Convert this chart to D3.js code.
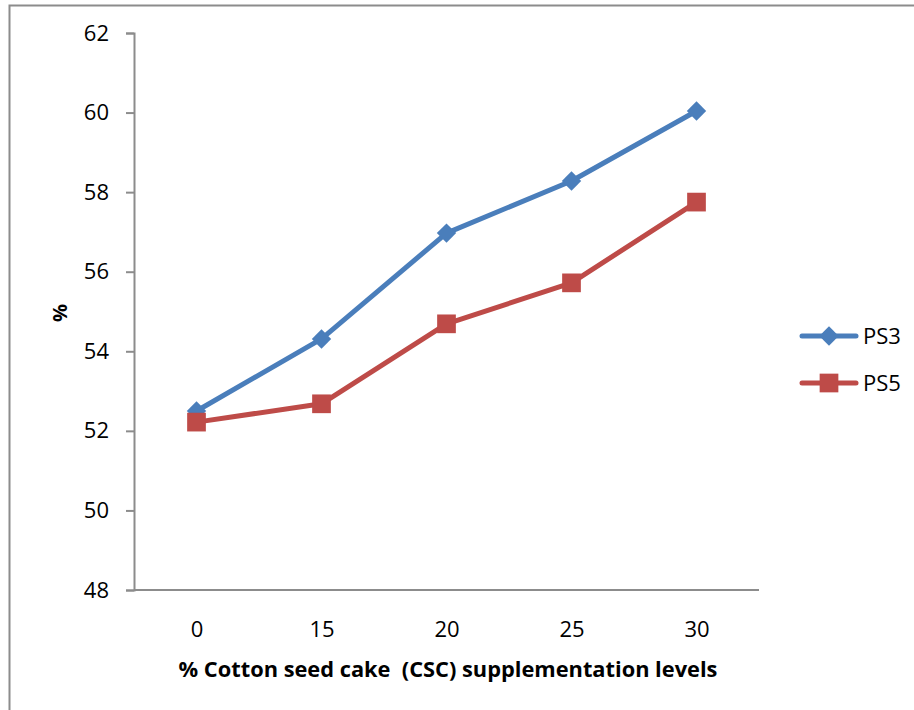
<!DOCTYPE html>
<html>
<head>
<meta charset="utf-8">
<script src="https://cdn.jsdelivr.net/npm/d3@7"></script>
<style>
  html, body { margin: 0; padding: 0; background: #fff; }
  svg text { font-family: "Open Sans", "Liberation Sans", sans-serif; }
</style>
</head>
<body>
<svg id="chart" width="914" height="710"></svg>
<script>
// Supplementation levels and the two series
const levels = ["0", "15", "20", "25", "30"];
const ps3 = [52.5, 54.31, 56.97, 58.28, 60.04];
const ps5 = [52.22, 52.68, 54.69, 55.72, 57.75];
const yTicks = [48, 50, 52, 54, 56, 58, 60, 62];
const seriesNames = ["PS3", "PS5"];

const svg = d3.select("#chart");
const margin = { left: 134, top: 33 };
const plotW = 625;
const plotH = 557;
const FONT = "'Open Sans', 'Liberation Sans', sans-serif";

// outer frame
svg.append("rect")
  .attr("x", 9.5).attr("y", 5.5)
  .attr("width", 920).attr("height", 720)
  .attr("fill", "none").attr("stroke", "#8c8c8c").attr("stroke-width", 2);

const x = d3.scalePoint().domain(levels).range([0, plotW]).padding(0.5);
const y = d3.scaleLinear().domain([48, 62]).range([plotH, 0]);

const g = svg.append("g").attr("transform", `translate(${margin.left},${margin.top})`);

// y axis
const yAxis = g.append("g")
  .call(d3.axisLeft(y).tickValues(yTicks).tickSize(8).tickPadding(17).tickFormat(d3.format("d")));
yAxis.select(".domain").attr("stroke", "#8c8c8c").attr("stroke-width", 2);
yAxis.selectAll(".tick line").attr("stroke", "#8c8c8c").attr("stroke-width", 2);
yAxis.selectAll(".tick text").attr("font-size", 22).attr("fill", "#000").attr("font-family", FONT);

// x axis
const xAxis = g.append("g").attr("transform", `translate(0,${y(48)})`)
  .call(d3.axisBottom(x).tickSize(0).tickPadding(31));
xAxis.select(".domain").attr("stroke", "#8c8c8c").attr("stroke-width", 2)
  .attr("d", `M0,0H${plotW}`);
xAxis.selectAll(".tick text").attr("font-size", 22).attr("fill", "#000").attr("font-family", FONT);

// axis titles
svg.append("text")
  .attr("x", 448).attr("y", 677)
  .attr("text-anchor", "middle").attr("font-size", 21.8).attr("font-weight", "bold")
  .attr("xml:space", "preserve")
  .text("% Cotton seed cake  (CSC) supplementation levels");

svg.append("text")
  .attr("transform", "translate(67,313) rotate(-90)")
  .attr("text-anchor", "middle").attr("font-size", 20).attr("font-weight", "bold")
  .text("%");

const colors = ["#4A7EBB", "#BE4B48"];
const data = [ps3, ps5];
const line = d3.line().x((d, i) => x(levels[i])).y(d => y(d));

const diamond = d3.symbol().type(d3.symbolDiamond2).size(240);
const square = d3.symbol().type(d3.symbolSquare).size(350);
const shapes = [diamond, square];

data.forEach((vals, s) => {
  g.append("path").datum(vals)
    .attr("d", line).attr("fill", "none")
    .attr("stroke", colors[s]).attr("stroke-width", 5).attr("stroke-linejoin", "round");
  g.selectAll(null).data(vals).join("path")
    .attr("transform", (d, i) => `translate(${x(levels[i])},${y(d)})`)
    .attr("d", shapes[s]())
    .attr("fill", colors[s]);
});

// legend
const legend = svg.append("g").attr("transform", "translate(800,0)");
seriesNames.forEach((name, s) => {
  const ly = 336 + s * 47;
  legend.append("line").attr("x1", 2).attr("x2", 56).attr("y1", ly).attr("y2", ly)
    .attr("stroke", colors[s]).attr("stroke-width", 5).attr("stroke-linecap", "round");
  legend.append("path").attr("transform", `translate(29,${ly})`)
    .attr("d", shapes[s]()).attr("fill", colors[s]);
  legend.append("text").attr("x", 63).attr("y", ly + 8)
    .attr("font-size", 22).attr("fill", "#000").text(name);
});
</script>
</body>
</html>
